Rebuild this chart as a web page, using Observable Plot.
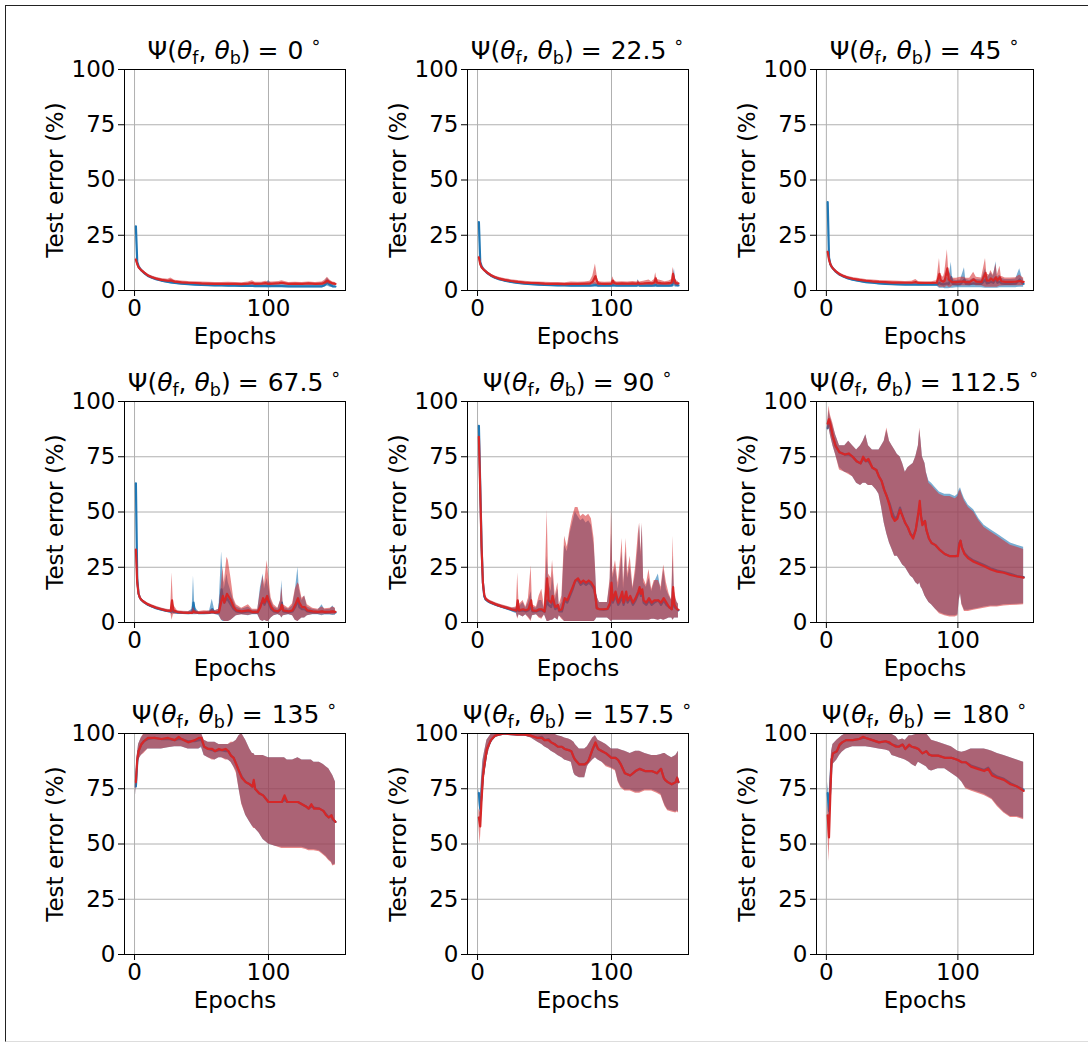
<!DOCTYPE html>
<html>
<head>
<meta charset="utf-8">
<script src="https://cdn.jsdelivr.net/npm/d3@7"></script>
<script src="https://cdn.jsdelivr.net/npm/@observablehq/plot@0.6"></script>
<style>
  body { margin: 0; background: #fff; }
  #root { position: relative; width: 1088px; height: 1043px; overflow: hidden; background: #fff; font-family: "DejaVu Sans", sans-serif; }
  .border { position: absolute; left: 5px; top: 5px; width: 1083px; height: 1037px; box-sizing: border-box;
            border-left: 1px solid #222; border-top: 1px solid #222; border-bottom: 1px solid #ddd; }
  .panel { position: absolute; }
  .title { position: absolute; text-align: center; font-size: 25px; line-height: 26px; color: #000; white-space: nowrap; }
  .title sub { font-size: 17.5px; vertical-align: -5px; line-height: 0; }
  .title sup { font-size: 17.5px; vertical-align: 11px; line-height: 0; margin-left: 7px; }
  .title .eq { margin: 0 9px 0 7px; }
</style>
</head>
<body>
<div id="root"><div class="border"></div></div>
<script>
// Panel titles (angle Ψ in degrees)
const angles = ["0", "22.5", "45", "67.5", "90", "112.5", "135", "157.5", "180"];
const xTicks = [0, 100];
const yTicks = [0, 25, 50, 75, 100];
const xLabel = "Epochs";
const yLabel = "Test error (%)";

// rows: [epoch, blueMean, blueLow, blueHigh, redMean, redLow, redHigh]
const p0 = [
[1,29,27,30,14,13,15],[2,13,12,14,12,11.3,12.7],[3,11,10,12,10.5,9.9,11.1],[4,10,9.2,10.8,9.8,9.2,10.4],
[5,9.2,8.5,10,9.2,8.6,9.8],[7,8,7.3,8.7,8.2,7.6,8.8],[10,6.6,6,7.2,6.8,6.2,7.4],[13,5.8,5.2,6.4,6,5.4,6.6],
[16,5.1,4.5,5.7,5.4,4.8,6],[20,4.5,3.9,5.1,4.8,4.2,5.4],[25,3.9,3.3,4.5,4.4,3.8,5.1],[27,3.7,3.1,4.3,4.6,3.9,5.6],
[30,3.4,2.8,4.0,4.0,3.4,4.6],[35,3.1,2.5,3.7,3.7,3.1,4.3],[40,2.9,2.3,3.5,3.5,2.9,4.1],[45,2.7,2.1,3.3,3.4,2.8,4.0],
[50,2.5,1.9,3.1,3.2,2.6,3.8],[55,2.4,1.8,3.0,3.1,2.5,3.7],[60,2.3,1.7,2.9,3.0,2.4,3.6],[65,2.3,1.7,2.9,3.0,2.4,3.6],
[70,2.2,1.6,2.8,3.0,2.3,3.7],[75,2.2,1.6,2.8,3.0,2.4,3.6],[80,2.1,1.5,2.7,2.9,2.3,3.5],[85,2.1,1.5,2.7,3.1,2.4,3.8],
[88,2.1,1.5,2.9,3.4,2.5,4.4],[90,2.0,1.4,2.7,3.0,2.4,3.7],[95,2.0,1.4,2.7,3.1,2.5,3.7],[98,2.0,1.4,2.8,3.3,2.5,4.2],
[100,2.1,1.2,4.5,3.0,2.4,3.8],[103,2.0,1.4,2.7,3.1,2.5,3.8],[108,2.0,1.4,2.7,3.3,2.5,4.1],[110,2.0,1.4,2.8,3.5,2.6,4.4],
[115,1.9,1.3,2.6,3.0,2.4,3.6],[120,1.9,1.3,2.6,3.1,2.5,3.7],[125,1.9,1.3,2.6,3.0,2.4,3.6],[130,1.9,1.3,2.6,3.2,2.5,3.9],
[135,1.9,1.3,2.7,3.0,2.4,3.6],[140,1.9,1.3,2.7,3.1,2.5,3.8],[142,2.5,1.5,4.0,3.6,2.6,4.6],[144,3.5,2.0,5.5,4.5,3.0,6.0],
[146,2.6,1.5,4.2,3.7,2.7,4.6],[148,1.9,1.2,2.7,3.2,2.5,3.9],[150,1.8,1.2,2.6,3.0,2.4,3.6]
];
const p1 = [
[1,31,29,32,15,14,16],[2,13,12,14,12,11.3,12.7],[3,11,10,12,10.5,9.9,11.1],[4,10,9.2,10.8,9.8,9.2,10.4],
[5,9.3,8.6,10,9.2,8.6,9.8],[7,8,7.3,8.7,8.2,7.6,8.8],[10,6.7,6.1,7.3,6.9,6.3,7.5],[13,5.8,5.2,6.4,6,5.4,6.6],
[16,5.1,4.5,5.7,5.4,4.8,6],[20,4.5,3.9,5.1,4.8,4.2,5.4],[25,3.9,3.3,4.5,4.3,3.7,4.9],[30,3.4,2.8,4.0,3.9,3.3,4.5],
[35,3.1,2.5,3.7,3.6,3.0,4.2],[40,2.9,2.3,3.5,3.4,2.8,4.0],[45,2.7,2.1,3.3,3.3,2.7,3.9],[50,2.5,1.9,3.1,3.1,2.5,3.7],
[55,2.4,1.8,3.0,3.0,2.4,3.6],[60,2.3,1.7,2.9,3.0,2.4,3.6],[65,2.3,1.7,2.9,2.9,2.3,3.5],[70,2.2,1.6,2.8,3.0,2.3,3.8],
[75,2.2,1.6,2.8,3.0,2.4,3.7],[80,2.2,1.6,2.8,3.1,2.4,3.9],[84,2.2,1.6,2.9,3.2,2.4,4.2],[86,2.3,1.6,3.2,4.0,2.6,6.5],
[88,2.5,1.6,3.6,6.5,2.8,12],[89,2.4,1.6,3.2,4.5,2.6,8],[90,2.2,1.6,2.9,3.2,2.4,4.2],[92,2.2,1.6,2.8,3.1,2.4,3.9],
[95,2.2,1.6,2.8,3.0,2.4,3.7],[100,2.2,1.6,2.9,3.1,2.4,3.9],[101,2.4,1.6,3.3,4.5,2.6,6.2],[102,2.3,1.6,3.0,3.4,2.5,4.5],
[104,2.2,1.6,2.8,3.1,2.4,3.8],[108,2.2,1.6,2.8,3.2,2.4,4.0],[112,2.2,1.6,2.8,3.1,2.4,3.8],[116,2.2,1.6,2.9,3.2,2.4,4.1],
[119,2.2,1.6,2.9,3.1,2.4,3.9],[120,3.0,1.6,5.0,3.5,2.5,4.5],[121,2.2,1.5,2.9,3.1,2.4,3.9],[124,2.2,1.5,2.9,3.2,2.4,4.2],
[128,2.3,1.5,3.0,3.4,2.5,4.8],[130,2.2,1.5,2.9,3.2,2.4,4.0],[132,2.3,1.5,3.1,3.6,2.5,5.0],[133,2.6,1.5,3.6,5.5,2.8,8],
[134,2.2,1.5,3.0,3.6,2.5,5.0],[137,2.3,1.5,3.0,3.3,2.4,4.5],[140,2.2,1.5,2.9,3.2,2.4,4.0],[143,2.2,1.5,3.0,3.3,2.4,4.3],
[145,2.3,1.5,3.2,3.6,2.5,5.0],[146,3.5,1.6,6.0,7.5,3.0,10.5],[147,5,1.8,10,4.5,2.6,7],[148,2.6,1.5,4.0,3.4,2.4,4.6],
[150,2.3,1.5,3.0,3.2,2.4,4.0]
];
const p2 = [
[1,40,38,41,17.5,16.5,18.5],[2,15,14,16,14,13.2,14.8],[3,12,11,13,12,11.3,12.7],[4,10.8,10,11.6,10.8,10.2,11.4],
[5,10,9.3,10.7,10,9.4,10.6],[7,8.6,7.9,9.3,8.8,8.2,9.4],[10,7.2,6.6,7.8,7.4,6.8,8.0],[13,6.3,5.7,6.9,6.5,5.9,7.1],
[16,5.6,5.0,6.2,5.9,5.3,6.5],[20,4.9,4.3,5.5,5.3,4.7,5.9],[25,4.3,3.7,4.9,4.8,4.2,5.4],[30,3.8,3.2,4.4,4.4,3.8,5.0],
[35,3.5,2.9,4.1,4.1,3.5,4.7],[40,3.2,2.6,3.8,3.9,3.3,4.5],[45,3.0,2.4,3.6,3.8,3.2,4.4],[50,2.9,2.3,3.5,3.6,3.0,4.3],
[55,2.8,2.2,3.4,3.6,3.0,4.2],[60,2.7,2.1,3.3,3.5,2.9,4.1],[65,2.7,2.1,3.3,3.5,2.9,4.2],[68,2.7,2.1,3.3,3.8,3.0,5.0],
[70,2.6,2.0,3.2,3.4,2.8,4.1],[75,2.6,2.0,3.2,3.4,2.8,4.0],[80,2.6,2.0,3.2,3.4,2.8,4.0],[84,2.6,2.0,3.3,3.5,2.8,4.4],
[86,3.5,1.0,7,7.5,1.5,14.5],[87,3.0,1.0,5,4.5,1.5,7],[89,2.8,1.0,4.5,4.0,1.5,6],[90,3.0,0.8,5.0,4.5,1.2,8],
[92,3.2,0.8,6.0,10,2,18.4],[93,2.9,0.8,5.0,5,1.5,9],[95,6,1.0,12.8,4.0,1.5,6.5],[96,3.0,1.0,5.0,3.8,2.0,5.5],
[99,2.8,1.2,4.5,3.8,2.2,5.5],[102,2.9,1.2,4.8,4.0,2.2,6],[105,5,1.2,10.3,4.0,2.2,6],[106,3.0,1.2,5.0,3.8,2.2,5.5],
[109,2.9,1.3,4.5,3.8,2.2,5.5],[112,3.2,1.3,5.5,5.0,2.5,8.3],[114,3.0,1.3,5.0,4.0,2.2,6],[118,3.0,1.3,4.8,3.9,2.2,5.6],
[121,5,1.0,10,8,1.5,14.5],[122,3.2,1.0,5.5,4.5,1.5,7.5],[124,3.5,1.0,7,4.5,1.5,7],[125,4,1.0,8,5.5,1.5,9],
[127,3.5,1.0,6.5,4.5,1.5,7],[129,5.5,1.0,13,6,1.5,12],[130,3.5,1.0,6,4.5,1.5,7],[132,4,1.2,7,6,2,11],
[133,3.2,1.2,5.5,4.2,2,6.5],[136,3.0,1.3,5.0,3.9,2.2,5.6],[140,3.0,1.3,5.0,3.9,2.2,5.6],[144,3.1,1.3,5.2,4.0,2.2,5.8],
[147,5,1.5,9.8,4.3,2.2,7],[149,3.3,1.5,5.5,4.0,2.3,6],[150,3.0,1.5,5.0,3.9,2.3,5.6]
];
const p3 = [
[1,63,60,64,33,31,34],[2,20,18,22,18,16.5,19.5],[3,13,12,14,13,12.2,13.8],[4,11.2,10.5,12,11.2,10.5,11.9],
[5,10.3,9.6,11,10.3,9.7,10.9],[7,9.2,8.6,9.8,9.3,8.7,9.9],[10,8.0,7.4,8.6,8.2,7.6,8.8],[13,7.2,6.6,7.8,7.4,6.8,8.0],
[16,6.5,5.9,7.1,6.7,6.1,7.3],[20,5.8,5.2,6.4,6.0,5.4,6.6],[24,5.2,4.6,5.8,5.4,4.8,6.0],[27,4.9,4.3,5.5,5.2,4.6,5.8],
[28,5.5,3.5,8,10,1,22.5],[29,4.8,4.2,5.4,5.5,3.5,8],[32,4.5,3.9,5.1,4.7,4.1,5.3],[36,4.3,3.7,4.9,4.5,3.9,5.1],
[40,4.2,3.6,4.8,4.4,3.8,5.0],[43,4.5,3.5,6,4.4,3.7,5.2],[44,9,3.5,21,5,3.6,7],[45,5,3.5,7,4.6,3.8,5.5],
[48,4.2,3.6,4.8,4.4,3.8,5.0],[52,4.2,3.6,4.8,4.5,3.8,5.3],[56,4.3,3.6,5.2,4.5,3.8,5.2],[58,6,3.6,10.5,4.8,3.8,6],
[60,4.3,3.6,5.2,4.5,3.8,5.3],[63,4.5,3.0,6,4.8,3.5,6],[65,15,1,32,10,1,18],[66,11,0.5,22,12,1,25],
[67,9,0.5,15,9,0.5,18],[69,11,0.5,22,13,0.5,29.5],[70,10,0.5,18,12,0.5,28],[72,8,1,14,10,1,20],
[74,6,2,10,7,2,11],[76,5,3,7,5.5,3,8],[80,4.5,3.5,6,5,3.5,6.5],[85,5,3,7,5.5,3.2,8],
[88,4.5,3.5,5.5,4.8,3.6,6],[92,4.5,3.5,5.5,4.8,3.6,6],[94,8,1,16,7,1,14],[96,10,0.5,22,11,0.5,21],
[97,8,1,15,9,1,17],[99,11,0.5,20,12,0.5,28],[100,9,0.5,16,10,0.5,22],[102,6,2,10,7,2,11],
[104,5,3,7,5.5,3,8],[107,4.6,3.5,6,5,3.6,6.5],[109,6,3,10,6,3,10],[110,9,2,19,8,2,16],
[111,5,3,7,5.5,3,8],[115,4.5,3.5,6,5,3.6,6.5],[118,5,3,7.5,5.5,3,8.5],[120,7,1,14,8,1,15],
[122,10,0.5,25,11,0.5,18],[123,7,1,15,9,1,17],[125,6,2,10,7,2,11],[127,6,2,12,7,2,12],
[129,5,3,7,5.5,3,8],[133,4.6,3.5,6,5,3.6,6.5],[137,4.5,3.5,5.5,4.8,3.6,6],[140,5,3,8,5,3.4,7],
[142,4.5,3.4,5.8,4.8,3.6,6.2],[146,4.6,3.4,6,4.9,3.6,6.5],[148,5,3.2,7.5,5,3.5,7],[150,4.5,3.3,6,4.8,3.5,6.5]
];
const p4 = [
[1,89,86,91,84,81,86],[2,62,58,66,60,56,64],[3,35,32,38,34,31,37],[4,18,16,20,18,16,20],
[5,12,11,13,12.5,11.5,13.5],[6,10.5,9.8,11.2,10.8,10,11.6],[8,9.5,8.8,10.2,9.8,9.1,10.5],[10,8.9,8.2,9.6,9.1,8.4,9.8],
[14,7.9,7.2,8.6,8.1,7.4,8.8],[18,7.1,6.4,7.8,7.3,6.6,8.0],[22,6.4,5.7,7.1,6.6,5.9,7.3],[26,5.6,4.8,6.4,5.9,5.1,6.7],
[29,5.2,4.0,6.5,5.5,4.5,7],[30,6,2,10,10,1.5,22.4],[31,5.2,3.5,7,5.5,3.5,8],[34,5.5,2.5,9,6,2.5,10],
[36,5,3.5,6.5,5.5,3.5,7],[38,5.5,2.5,9,6,2,11],[40,7,1,14,10,0.5,25.7],[41,5,3,7,5.5,3,8],
[44,5,3.5,6.5,5.3,3.5,7],[46,5.5,2.5,10,6,2,12],[48,5.5,2,10,6,1.5,15],[50,4.8,3.5,6,5,3.5,6.5],
[52,10,0.5,30,20,0.5,50.8],[53,8,0.5,18,10,0.5,22],[55,7,1,14,9,1,20],[56,10,1,22,12,1,28],
[58,6,2,10,7,2,12],[60,7,1,15,8,1,18],[61,5,3,7,5.5,3,8],[63,5,2,9,6,1.5,12],
[65,10,0.5,35,11,0.5,39],[67,9,0.5,32,10,0.5,34],[69,12,0.5,40,13,0.5,42],[71,15,0.5,45,16,0.5,48],
[73,19,0.5,50,19,0.5,52],[75,19,0.5,48,20,0.5,52],[77,17,0.5,46,18,0.5,48],[79,18,0.5,47,19,0.5,49],
[81,17,0.5,45,18,0.5,48],[83,18,0.5,46,19,0.5,49],[85,17,0.5,44,18,0.5,47],[87,15,0.5,35,16,0.5,38],
[88,12,1,25,12,1,26],[89,6.5,2,12,6.5,2,12],[91,6,2,9,6,2,9],[94,5.8,2,9,6,2,9],
[97,6,2,9,6.2,2,9],[99,8,1,18,9,1,20],[100,14,0.5,40,18,0.5,50.8],[101,9,1,20,10,1,22],
[103,12,1,25,14,1,28],[105,8,1,15,9,1,18],[107,10,1,25,12,1,30],[108,13,1,32,14,1,38],
[109,8,1,15,9,1,18],[111,12,1,32,14,1,38],[112,9,1,20,10,1,22],[114,11,1,25,12,1,30],
[116,8,1,15,9,1,16],[118,10,1,22,11,1,25],[120,13,1,35,14,1,40],[121,15,1,44,16,1,45],
[122,12,1,30,13,1,32],[123,14,1,44,15,1,45],[124,9,1,18,10,1,20],[126,8,1,16,9,1,17],
[128,10,1,20,11,1,24],[130,8,1.5,14,9,1.5,15],[132,9,1.5,18,10,1.5,19],[135,10,1,22,10,1,19],
[137,8,1.5,14,9,1.5,16],[139,10,1,24,11,1,26],[141,8,1.5,15,9,1.5,18],[143,7,2,12,7,2,13],
[145,6,2,10,6,2,10],[146,12,1,30,16,1,39],[147,7,2,12,8,2,14],[149,6,2,9,6,2,9],[150,5.5,2,8,5.8,2,8.5]
];
const p5 = [
[1,88,86.5,89.5,90,87,91],[2,91,88,96,92,88,98],[3,89,85,93,90,85,94],[5,84,80,89,84,80,90],
[7,80,76,85,80,76,85],[10,77,70,80,77,69,80],[14,76,68,80,76,68,80],[17,76,67.5,82,76.5,67,82],
[20,75,66,80,75,66,80],[23,73,63,78,73,63,78],[26,72,62,80,72,62,80],[28,74,63,82,75,63,82],
[30,73,63,85,73,63,85],[32,73,62,80,74,62,80],[35,70,62,78,70,62,78],[38,69,60,78,69,60,78],
[40,66,58,78,66,58,78],[42,64,52,80,64,52,80],[44,60,45,82,60,45,82],[46,57,40,87,57,40,88],
[48,54,36,82,53,36,82],[50,50,33,80,48,33,80],[52,47,30,78,46,30,78],[54,48,30,76,47,30,76],
[56,52,28,75,51,28,75],[58,48,26,72,48,26,72],[60,45,25,68,45,25,68],[62,43,23,70,43,23,70],
[64,40,21,71,40,21,71],[66,39,20,72,38,20,72],[68,42,18,75,42,18,75],[70,49,17,80,50,17,80],
[71,53,18,87,55,18,88],[72,48,16,82,48,16,82],[73,45,15,75,44,15,75],[75,46,12,72,46,12,72],
[76,42,11,68,42,11,68],[78,38,9,64,38,9,63],[80,36,8,63,36,8,62],[83,35,6,61,35,6,60],
[86,33,4.5,59,33,4,58],[90,31,3.5,58,31,3,57],[94,30,3,58,30,2.5,57],[98,30,3,57,30,2.5,56],
[100,30.5,3.5,58,30,3,57],[101,36,10,60,35,10,59],[102,37,13,61,37,13,60],[103,34,8.5,59,34,8,58],
[105,31.5,5.5,56,31,5,55],[108,29.5,5.5,53,29,5,52],[112,28,6,51,27.5,5.5,50],[116,27,6.5,47,26.5,6,46],
[120,26,7,44,25.5,6.5,43],[125,24.5,7.5,42,24,7,41],[130,23.5,7.5,40,23,7,39],[135,22.8,8,38,22.5,7.5,37],
[140,22,8.2,36,21.5,7.7,35],[145,21,8.3,35,20.8,7.8,34],[150,20.5,8.5,34,20.3,8,33]
];
const p6 = [
[1,76,72,80,78,72,80],[2,87,82,90,88,82,90],[3,92,88,95,92,88,95],[5,95,90,98,95,90,98],
[7,96.5,91.5,99.5,96.5,91,100],[10,97.5,93,100,98,93,100],[15,98,93,100,98,93,100],[20,97.5,93,100,97.5,93,100],
[25,97.5,93.5,100,98,93.5,100],[30,97,94,100,97,94,100],[33,97.5,94,100,98.5,94,100],[35,97.5,94,100,97.5,94,100],
[40,96.5,93,100,96,93,100],[45,96.5,93,100,97,93,100],[48,97,93,100,98,93,100],[50,97,93.5,100,98,94,100],
[52,94,90,97,94,90,97],[55,93,89,96,93,89,96],[58,92.5,88.5,96,93,88,96],[60,92,88,96,92,88,96],
[63,92.5,89,95,93,89,95],[65,92.5,89,95,92.5,89,95],[68,92,88.5,95,93,88,95],[70,92,88,95,92,88,95],
[72,90,87,95.5,90,87,96],[74,89,85,96,89,85,96],[76,86,83,97,86,82,97],[78,83,75,99,83,75,99],
[80,80.5,68.5,100,80,68,100],[83,78,63,97,78,63,97],[86,77,60,93,77,60,93],[88,76,58,91,76,58,91],
[89,78,57.5,91,79,57,91],[90,75,57,90,75,57,90],[93,73,55,90,73,55,90],[96,72,52,90,72,52,90],
[100,69,50,89,69,50,89],[105,69,49,89,69,49,89],[110,69,48.5,89,69,48,89],[112,70,48.5,89,72,48,89],
[114,69,48.5,88,69,48,88],[118,69,48.5,88,69,48,88],[122,69,48.5,89,69,48,89],[125,68,48.5,88,68,48,88],
[128,67,48,88,67,47.5,88],[130,66,47.5,88,66,47,88],[132,67,47.5,88,68,47,88],[134,66.5,47.5,87,66,47,87],
[138,66,47,87,66,46.5,87],[141,65,45.5,86,65,45,86],[143,63.5,44.5,85,63,44,85],[145,62,43,84,62,42.5,84],
[147,63,42,82,63,41.5,82],[148,61,40.5,81,61.5,40,81],[150,60,41,78,60,40.5,78]
];
const p7 = [
[1,73,70,75,62,58,66],[2,66,60,72,58,50,64],[3,72,65,80,70,62,78],[4,81,74,88,80,72,87],
[5,85,80,91,85,80,91],[7,93,89,97,93,89,97],[10,97,95.5,99.5,97,95.5,99.5],[13,99,98,100,99,98,100],
[16,99.5,99,100,99.5,99,100],[20,100,99.5,100,100,99.5,100],[25,99.7,99.2,100,99.7,99.2,100],[30,99.5,99,100,99.5,99,100],
[35,99.5,99,100,99.5,99,100],[40,99,98,100,99,98,100],[45,98,96,100,98,96,100],[48,98.5,95,100,98,95,100],
[50,97,94,100,97,94,100],[53,97.5,93,100,97,93,100],[55,96,92,100,96,92,100],[58,95,91,99.5,95,91,99.5],
[60,94,90,99,94,90,99],[63,94,89,98.5,94,89,98.5],[65,93,88,98,93,88,98],[68,92.5,87.5,97.5,92.5,87.5,97.5],
[70,92,87,97,92,87,97],[72,89,82,96,89,82,96],[73,88,81,95,88,81,95],[76,86,80,93,86,80,93],
[80,86,80,93,86,80,93],[82,87,85,94,87,85,94],[83,88,86,95,88,86,95],[86,93,88,98,93,88,98],
[88,95.5,89,99,96,89,99],[90,93,88,97,93,88,97],[93,92,87,96,92,87,96],[96,91,85.5,95,91,85,95],
[100,89,84.5,93,89,84,93],[103,89,83.5,93,89,83,93],[105,88,78.5,93,88,78,93],[107,86,76,92.5,86,75.5,92.5],
[110,82,74.5,92,82,74,92],[114,81,74.5,91,81,74,91],[118,83,73.5,92,83,73,92],[121,84,73.5,92,84,73,92],
[125,83,74.5,91,83,74,91],[130,83,74.5,90,83,74,90],[134,82,73.5,90,82,73,90],[137,84,72.5,90.5,84,72,90.5],
[139,80,69,91,80,68.5,91],[140,79,67.5,91,79,67,91],[142,78,65.5,90,78,65,90],[145,77,65,89,77,64.5,89],
[148,78,64.5,90,78,64,90],[149,80,65,91,80,64.5,91],[150,78,64.5,92,78,64,92]
];
const p8 = [
[1,73,69,78,63,58,68],[2,65,55,72,53,42,62],[3,75,65,83,72,60,82],[4,88,80,92,88,80,92],
[5,91,86,95,91,86,95],[8,92,88,97,92,88,97],[10,94.5,90,98,95,90,98],[12,96,91.5,99,96,91.5,99],
[15,97,93,100,97,93,100],[20,97,94,100,97,94,100],[25,97.5,94,100,97.5,94,100],[28,98,94,100,98.5,94,100],
[30,98,94,100,98,94,100],[35,97,93.5,100,97,93.5,100],[40,96,93,100,96,93,100],[45,96.5,92.5,100,96.5,92.5,100],
[48,95.5,92,100,96,92,100],[50,95,90,99.5,95,90,99.5],[53,94.5,89.5,98.5,94,89.5,98.5],[55,94,89,97,94,89,97],
[58,95,88.5,97.5,95,88.5,97.5],[60,93,88,97,93,88,97],[63,94.5,87,99,95,87,99],[65,94,86,99,94,86,99],
[68,93.5,85,99.5,93.5,85,99.5],[70,93,87,100,93,87,100],[73,91,86,100,91,86,100],[76,92,85,100,92,85,100],
[78,90.5,83.5,98.5,90.5,83.5,98.5],[80,90,83,97,90,83,97],[85,90,84,96,90,84,96],[90,89,84,95,89,84,95],
[95,89,82,94,89,82,94],[100,88,80,92,88,80,92],[103,87,78,91.5,87,78,91.5],[106,87,75.5,92,87,75,92],
[110,85.5,74.5,93,85,74,93],[115,84.5,73.5,93,84,73,93],[120,83.5,72.5,93,83,72,93],[123,84.5,71.5,92.5,84,71,92.5],
[126,82,70.5,92,81,70,92],[130,80.5,67.5,91,80,67,91],[135,79.5,64.5,90,79,64,90],[140,77.5,62.5,89,77,62,89],
[145,76,62.5,88,76,62,88],[150,74.5,61.5,87,74,61,87]
];
const panels = [p0, p1, p2, p3, p4, p5, p6, p7, p8];

const blue = "#1f77b4", red = "#d62728";
const colLeft = [124, 467, 816];
const colWidth = [221, 221, 217];
const rowTop = [69, 401, 733];
const plotH = 221;
const mL = 124, mT = 10, mB = 70, mR = 12;
const root = document.getElementById("root");

panels.forEach((rows, i) => {
  const col = i % 3, row = Math.floor(i / 3);
  const data = rows.map(r => ({e: r[0], bm: r[1], bl: r[2], bh: r[3], rm: r[4], rl: r[5], rh: r[6]}));
  const w = colWidth[col];
  const chart = Plot.plot({
    width: mL + w + mR,
    height: mT + plotH + mB,
    marginLeft: mL, marginRight: mR, marginTop: mT, marginBottom: mB,
    style: {background: "transparent", fontFamily: "DejaVu Sans", fontSize: "23px", color: "#000", overflow: "visible"},
    x: {domain: [-7.5, 157.5]},
    y: {domain: [0, 100]},
    marks: [
      Plot.gridX(xTicks, {stroke: "#b0b0b0", strokeOpacity: 1, strokeWidth: 1}),
      Plot.gridY(yTicks, {stroke: "#b0b0b0", strokeOpacity: 1, strokeWidth: 1}),
      Plot.areaY(data, {x: "e", y1: "bl", y2: "bh", fill: blue, fillOpacity: 0.6, clip: true}),
      Plot.line(data, {x: "e", y: "bm", stroke: blue, strokeWidth: 2.2, clip: true}),
      Plot.areaY(data, {x: "e", y1: "rl", y2: "rh", fill: red, fillOpacity: 0.55, clip: true}),
      Plot.line(data, {x: "e", y: "rm", stroke: red, strokeWidth: 2.2, clip: true}),
      Plot.frame({stroke: "#000", strokeWidth: 1}),
      Plot.axisX(xTicks, {tickSize: 6, tickPadding: 3, label: null}),
      Plot.axisY(yTicks, {tickSize: 6, tickPadding: 3, label: null}),
      Plot.text([xLabel], {frameAnchor: "bottom", dy: 53, lineAnchor: "bottom", textAnchor: "middle"}),
      Plot.text([yLabel], {frameAnchor: "left", dx: -62, rotate: -90, lineAnchor: "bottom", textAnchor: "middle"})
    ]
  });
  const div = document.createElement("div");
  div.className = "panel";
  div.style.left = (colLeft[col] - mL) + "px";
  div.style.top = (rowTop[row] - mT) + "px";
  div.style.width = (mL + w + mR) + "px";
  div.appendChild(chart);
  root.appendChild(div);

  const t = document.createElement("div");
  t.className = "title";
  t.style.left = (colLeft[col] - 20) + "px";
  t.style.width = (w + 40) + "px";
  t.style.top = (rowTop[row] - 31) + "px";
  t.innerHTML = "Ψ(<i>θ</i><sub>f</sub>, <i>θ</i><sub>b</sub>)<span class=\"eq\">=</span>" + angles[i] + "<sup>∘</sup>";
  root.appendChild(t);
});
</script>
</body>
</html>
